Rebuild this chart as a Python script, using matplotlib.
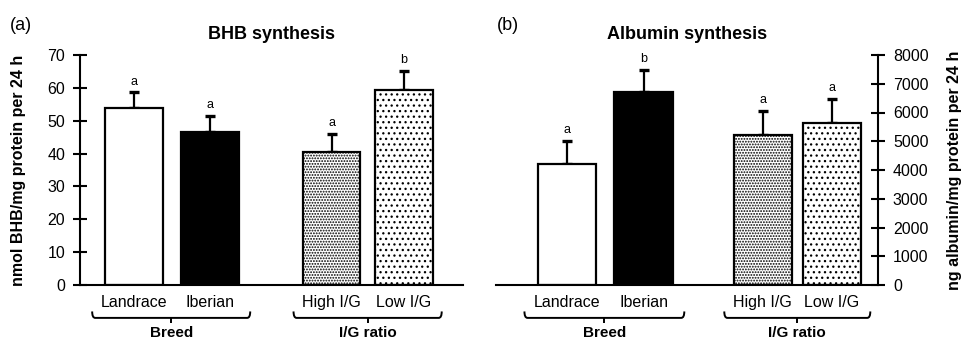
import matplotlib.pyplot as plt
from matplotlib.path import Path
from matplotlib.patches import PathPatch

plt.rcParams['font.family'] = ['Liberation Sans', 'DejaVu Sans']
plt.rcParams['hatch.linewidth'] = 0.9

categories = ['Landrace', 'Iberian', 'High I/G', 'Low I/G']
groups = ['Breed', 'I/G ratio']

bhb_mean = [53.8, 46.5, 40.6, 59.3]
bhb_err = [4.8, 5.0, 5.5, 5.8]
bhb_letters = ['a', 'a', 'a', 'b']

alb_mean = [4220, 6700, 5225, 5640]
alb_err = [780, 780, 840, 830]
alb_letters = ['a', 'b', 'a', 'a']

faces = ['white', 'black', 'white', 'white']
hatches = [None, None, '......', '...']


def bracket(ax, x0, x1, label):
    tr = ax.get_xaxis_transform()
    y_end, y_line, y_tip = -0.115, -0.143, -0.165
    r = 0.04
    xm = (x0 + x1) / 2
    verts = [(x0, y_end), (x0, y_line), (x0 + r, y_line), (x1 - r, y_line),
             (x1, y_line), (x1, y_end)]
    codes = [Path.MOVETO, Path.CURVE3, Path.CURVE3, Path.LINETO,
             Path.CURVE3, Path.CURVE3]
    ax.add_patch(PathPatch(Path(verts, codes), transform=tr, fill=False,
                           lw=1.4, clip_on=False))
    ax.plot([xm, xm], [y_line, y_tip], color='k', lw=1.4, transform=tr,
            clip_on=False, solid_capstyle='butt')
    ax.text(xm, -0.21, label, transform=tr, ha='center', va='center',
            fontsize=11, fontweight='bold')


def panel(ax, pos, means, errs, letters, yticks, side):
    for x, m, fc, h in zip(pos, means, faces, hatches):
        ax.bar(x, m, width=0.76, color=fc, edgecolor='black', linewidth=1.6,
               hatch=h, zorder=2)
    ax.errorbar(pos, means, yerr=[[0] * 4, errs], fmt='none', ecolor='black',
                elinewidth=1.6, capsize=3.5, capthick=2.4, zorder=1)
    for x, m, e, t in zip(pos, means, errs, letters):
        ax.annotate(t, (x, m + e), xytext=(0, 3.5), textcoords='offset points',
                    ha='center', va='bottom', fontsize=9)
    ax.set_yticks(yticks)
    ax.set_ylim(yticks[0], yticks[-1])
    ax.set_xticks(pos)
    ax.set_xticklabels(categories, fontsize=11.5)
    ax.tick_params(axis='x', length=0, pad=7)
    ax.tick_params(axis='y', direction='inout', length=9.5, width=1.5,
                   labelsize=11.5, pad=6)
    ax.spines['top'].set_visible(False)
    ax.spines['bottom'].set_linewidth(1.5)
    if side == 'left':
        ax.spines['right'].set_visible(False)
        ax.spines['left'].set_linewidth(1.5)
    else:
        ax.spines['left'].set_visible(False)
        ax.spines['right'].set_linewidth(1.5)
        ax.yaxis.tick_right()
        ax.yaxis.set_label_position('right')
    bracket(ax, pos[0] - 0.55, pos[1] + 0.53, groups[0])
    bracket(ax, pos[2] - 0.5, pos[3] + 0.5, groups[1])


fig = plt.figure(figsize=(9.64, 3.42), dpi=100)
ax1 = fig.add_axes([80 / 964, 57 / 342, 383 / 964, 230 / 342])
ax2 = fig.add_axes([496 / 964, 57 / 342, 382 / 964, 230 / 342])

pos_a = [0, 1, 2.6, 3.55]
pos_b = [0, 1, 2.55, 3.45]

panel(ax1, pos_a, bhb_mean, bhb_err, bhb_letters, list(range(0, 71, 10)), 'left')
ax1.set_xlim(-0.71, 4.33)
ax1.set_title('BHB synthesis', fontsize=13, fontweight='bold', pad=11.5)
ax1.set_ylabel('nmol BHB/mg protein per 24 h', fontsize=11.5, fontweight='bold')
ax1.yaxis.set_label_coords(-0.14, 0.5)

panel(ax2, pos_b, alb_mean, alb_err, alb_letters, list(range(0, 8001, 1000)), 'right')
ax2.set_xlim(-0.92, 4.05)
ax2.set_title('Albumin synthesis', fontsize=13, fontweight='bold', pad=11.5)
ax2.set_ylabel('ng albumin/mg protein per 24 h', fontsize=11.5, fontweight='bold')
ax2.yaxis.set_label_coords(1.18, 0.5)

fig.text(10 / 964, 1 - 26 / 342, '(a)', fontsize=13, va='center')
fig.text(497 / 964, 1 - 26 / 342, '(b)', fontsize=13, va='center')

fig.savefig('out.png', dpi=100)
